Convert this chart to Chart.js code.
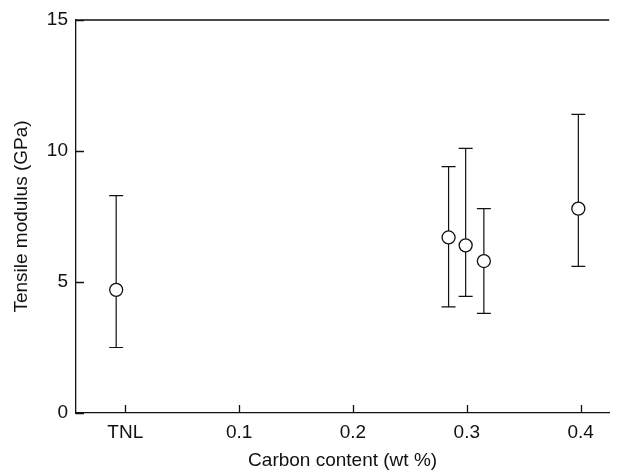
<!DOCTYPE html>
<html>
<head>
<meta charset="utf-8">
<script src="https://cdn.jsdelivr.net/npm/chart.js@4/dist/chart.umd.min.js"></script>
<style>
html,body{margin:0;padding:0;background:#fff;}
#wrap{width:617px;height:472px;position:relative;}
</style>
</head>
<body>
<div id="wrap"><canvas id="c" width="617" height="472"></canvas></div>
<script>
// Data
const carbon   = [-0.008, 0.284, 0.299, 0.315, 0.398];
const modulus  = [4.7, 6.7, 6.4, 5.8, 7.8];
const errLow   = [2.5, 4.05, 4.45, 3.8, 5.6];
const errHigh  = [8.3, 9.4, 10.1, 7.8, 11.4];
const xTickValues = [0, 0.1, 0.2, 0.3, 0.4];
const xTickLabels = ['TNL', '0.1', '0.2', '0.3', '0.4'];
const yTickValues = [0, 5, 10, 15];

const FONT = "'Liberation Sans', Arial, Helvetica, sans-serif";
const INK = '#111';

const points = carbon.map((x, i) => ({x: x, y: modulus[i]}));

const errorBars = {
  id: 'errorBars',
  beforeDatasetsDraw(chart) {
    const {ctx, scales: {x, y}} = chart;
    ctx.save();
    ctx.strokeStyle = INK;
    ctx.lineWidth = 1.2;
    const cap = 7;
    carbon.forEach((cx, i) => {
      const px = x.getPixelForValue(cx);
      const yl = y.getPixelForValue(errLow[i]);
      const yh = y.getPixelForValue(errHigh[i]);
      ctx.beginPath();
      ctx.moveTo(px, yl); ctx.lineTo(px, yh);
      ctx.moveTo(px - cap, yl); ctx.lineTo(px + cap, yl);
      ctx.moveTo(px - cap, yh); ctx.lineTo(px + cap, yh);
      ctx.stroke();
    });
    ctx.restore();
  }
};

const frame = {
  id: 'frame',
  afterDraw(chart) {
    const {ctx, chartArea: a, scales: {x, y}} = chart;
    ctx.save();
    ctx.strokeStyle = INK;
    ctx.lineWidth = 1.3;
    ctx.beginPath();
    ctx.moveTo(a.left, a.top); ctx.lineTo(a.right, a.top);
    // inward ticks
    yTickValues.forEach(v => {
      const py = Math.round(y.getPixelForValue(v)) + 0.5;
      ctx.moveTo(a.left, py); ctx.lineTo(a.left + 8, py);
    });
    xTickValues.forEach(v => {
      const px = Math.round(x.getPixelForValue(v)) + 0.5;
      ctx.moveTo(px, a.bottom); ctx.lineTo(px, a.bottom - 8);
    });
    ctx.stroke();
    ctx.restore();
  }
};

new Chart(document.getElementById('c'), {
  type: 'scatter',
  data: {
    datasets: [{
      data: points,
      pointRadius: 6.5,
      pointHoverRadius: 6.5,
      pointBackgroundColor: '#fff',
      pointBorderColor: INK,
      pointBorderWidth: 1.3,
      showLine: false
    }]
  },
  options: {
    responsive: false,
    animation: false,
    events: [],
    layout: {padding: {top: 20, right: 0, left: 0, bottom: 0}},
    plugins: {legend: {display: false}, tooltip: {enabled: false}},
    scales: {
      x: {
        type: 'linear',
        min: -0.0433,
        max: 0.4251,
        afterBuildTicks: s => { s.ticks = xTickValues.map(v => ({value: v})); },
        afterFit: s => { s.height = 59; s.paddingRight = 0; s.paddingLeft = 0; },
        grid: {display: false, drawTicks: false},
        border: {display: true, color: INK, width: 1.3},
        ticks: {
          padding: 8,
          color: INK,
          font: {family: FONT, size: 19},
          maxRotation: 0,
          autoSkip: false,
          callback: v => { const i = xTickValues.findIndex(t => Math.abs(t - v) < 1e-9); return i >= 0 ? xTickLabels[i] : ''; }
        },
        title: {display: true, text: 'Carbon content (wt %)', color: INK,
                font: {family: FONT, size: 19}, padding: {top: 0, bottom: 0}}
      },
      y: {
        min: 0, max: 15,
        afterBuildTicks: s => { s.ticks = yTickValues.map(v => ({value: v})); },
        afterFit: s => { s.width = 76; },
        grid: {display: false, drawTicks: false},
        border: {display: true, color: INK, width: 1.3},
        ticks: {padding: 8, color: INK, font: {family: FONT, size: 19}},
        title: {display: true, text: 'Tensile modulus (GPa)', color: INK,
                font: {family: FONT, size: 19}, padding: {top: 10, bottom: 0}}
      }
    }
  },
  plugins: [errorBars, frame]
});
</script>
</body>
</html>
